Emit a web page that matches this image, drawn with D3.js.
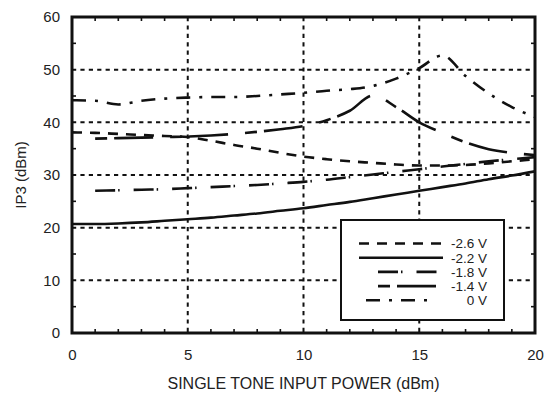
<!DOCTYPE html>
<html>
<head>
<meta charset="utf-8">
<script src="https://cdn.jsdelivr.net/npm/d3@7"></script>
<style>
  body { margin: 0; background: #fff; }
  svg { display: block; font-family: "Liberation Sans", Arial, sans-serif; }
</style>
</head>
<body>
<div id="chart"></div>
<script>
// input power (dBm), one point per dBm
const power = [0, 1, 2, 3, 4, 5, 6, 7, 8, 9, 10, 11, 12, 13, 14, 15, 16, 17, 18, 19, 20];

const ip3_m26 = [38.1, 38.0, 37.8, 37.6, 37.4, 37.2, 36.5, 35.7, 35.0, 34.2, 33.5, 33.0, 32.6, 32.3, 32.0, 31.8, 31.8, 31.9, 32.2, 32.6, 33.0];
const ip3_m22 = [20.7, 20.7, 20.8, 21.0, 21.3, 21.6, 21.9, 22.3, 22.7, 23.2, 23.7, 24.3, 24.9, 25.6, 26.3, 27.0, 27.7, 28.4, 29.2, 29.9, 30.7];
const ip3_m18 = [null, 27.0, 27.1, 27.2, 27.3, 27.5, 27.7, 27.9, 28.1, 28.4, 28.7, 29.1, 29.6, 30.1, 30.6, 31.1, 31.6, 32.1, 32.6, 33.0, 33.4];
const ip3_m14 = [null, 36.9, 37.0, 37.1, 37.2, 37.3, 37.5, 37.8, 38.2, 38.7, 39.3, 40.4, 42.2, 45.1, 42.9, 40.0, 38.0, 36.2, 34.9, 34.2, 33.8];
const ip3_0v  = [44.2, 44.1, 43.4, 44.1, 44.5, 44.7, 44.8, 44.8, 45.0, 45.3, 45.6, 46.0, 46.3, 46.9, 48.3, 50.3, 52.7, 48.8, 45.5, 42.9, 41.0];

const seriesLabels = ["-2.6 V", "-2.2 V", "-1.8 V", "-1.4 V", "0 V"];
const seriesValues = [ip3_m26, ip3_m22, ip3_m18, ip3_m14, ip3_0v];

const xTicks = [0, 5, 10, 15, 20];
const yTicks = [0, 10, 20, 30, 40, 50, 60];

// line styles
const dashes = ["10,8", null, "20,3,1.5,14", "12,7,39,17", "14,9,3,9"];
const legendSpan = [[359, 443], [359, 443], [378, 437], [378, 437], [366, 432]];

const width = 547, height = 395;
const margin = { top: 17, right: 12, bottom: 62, left: 72 };

const svg = d3.select("#chart").append("svg")
  .attr("width", width)
  .attr("height", height);

const x = d3.scaleLinear().domain([0, 20]).range([margin.left, width - margin.right]);
const y = d3.scaleLinear().domain([0, 60]).range([height - margin.bottom, margin.top]);

// dotted grid
svg.append("g")
  .selectAll("line.vg")
  .data(xTicks.slice(1, -1))
  .enter().append("line")
  .attr("x1", d => x(d)).attr("x2", d => x(d))
  .attr("y1", y(60)).attr("y2", y(0))
  .attr("stroke", "#111").attr("stroke-width", 2)
  .attr("stroke-dasharray", "4.2,4.2");

svg.append("g")
  .selectAll("line.hg")
  .data(yTicks.slice(1, -1))
  .enter().append("line")
  .attr("x1", x(0)).attr("x2", x(20))
  .attr("y1", d => y(d)).attr("y2", d => y(d))
  .attr("stroke", "#111").attr("stroke-width", 2)
  .attr("stroke-dasharray", "4.2,4.2");

// curves
svg.append("clipPath").attr("id", "plot-clip")
  .append("rect")
  .attr("x", x(0)).attr("y", y(60))
  .attr("width", x(20) - x(0)).attr("height", y(0) - y(60));

const line = d3.line()
  .defined(d => d[1] != null)
  .x(d => x(d[0]))
  .y(d => y(d[1]))
  .curve(d3.curveMonotoneX);

svg.append("g").attr("clip-path", "url(#plot-clip)")
  .selectAll("path")
  .data(seriesValues)
  .enter().append("path")
  .attr("d", vals => line(power.map((p, i) => [p, vals[i]])))
  .attr("fill", "none")
  .attr("stroke", "#111")
  .attr("stroke-width", 2.6)
  .attr("stroke-dasharray", (d, i) => dashes[i]);

// legend
const lg = svg.append("g");
lg.append("rect")
  .attr("x", 341).attr("y", 220)
  .attr("width", 163).attr("height", 100)
  .attr("fill", "#fff").attr("stroke", "#111").attr("stroke-width", 2);

const rows = lg.selectAll("g.row")
  .data(seriesLabels)
  .enter().append("g")
  .attr("transform", (d, i) => `translate(0, ${243.5 + i * 14.2})`);

rows.append("line")
  .attr("x1", (d, i) => legendSpan[i][0])
  .attr("x2", (d, i) => legendSpan[i][1])
  .attr("stroke", "#111").attr("stroke-width", 2.6)
  .attr("stroke-dasharray", (d, i) => dashes[i]);

rows.append("text")
  .attr("x", 487).attr("dy", "0.36em")
  .attr("text-anchor", "end")
  .attr("font-size", 13.5)
  .attr("fill", "#222")
  .text(d => d);

// frame and inner minor ticks
svg.append("rect")
  .attr("x", x(0)).attr("y", y(60))
  .attr("width", x(20) - x(0)).attr("height", y(0) - y(60))
  .attr("fill", "none").attr("stroke", "#111").attr("stroke-width", 3);

const xMinor = [1, 2, 3, 4, 6, 7, 8, 9, 11, 12, 13, 14, 16, 17, 18, 19];
const yMinor = [5, 15, 25, 35, 45, 55];
const tk = svg.append("g").attr("stroke", "#111").attr("stroke-width", 1.6);
xMinor.forEach(v => {
  tk.append("line").attr("x1", x(v)).attr("x2", x(v)).attr("y1", y(0)).attr("y2", y(0) - 4);
  tk.append("line").attr("x1", x(v)).attr("x2", x(v)).attr("y1", y(60)).attr("y2", y(60) + 4);
});
yMinor.forEach(v => {
  tk.append("line").attr("x1", x(0)).attr("x2", x(0) + 4).attr("y1", y(v)).attr("y2", y(v));
  tk.append("line").attr("x1", x(20)).attr("x2", x(20) - 4).attr("y1", y(v)).attr("y2", y(v));
});

// tick labels
const xAxis = svg.append("g")
  .attr("transform", `translate(0, ${y(0)})`)
  .call(d3.axisBottom(x).tickValues(xTicks).tickSize(0).tickPadding(16));
const yAxis = svg.append("g")
  .attr("transform", `translate(${x(0)}, 0)`)
  .call(d3.axisLeft(y).tickValues(yTicks).tickSize(0).tickPadding(12));
[xAxis, yAxis].forEach(a => {
  a.select(".domain").remove();
  a.selectAll("text")
    .attr("font-size", 15)
    .attr("font-family", "Liberation Sans, Arial, sans-serif")
    .attr("fill", "#222");
});

// axis titles
svg.append("text")
  .attr("x", (x(0) + x(20)) / 2).attr("y", 389)
  .attr("text-anchor", "middle")
  .attr("font-size", 16)
  .attr("fill", "#222")
  .text("SINGLE TONE INPUT POWER (dBm)");

svg.append("text")
  .attr("transform", `translate(26, ${(y(0) + y(60)) / 2}) rotate(-90)`)
  .attr("text-anchor", "middle")
  .attr("font-size", 15)
  .attr("fill", "#222")
  .text("IP3 (dBm)");
</script>
</body>
</html>
